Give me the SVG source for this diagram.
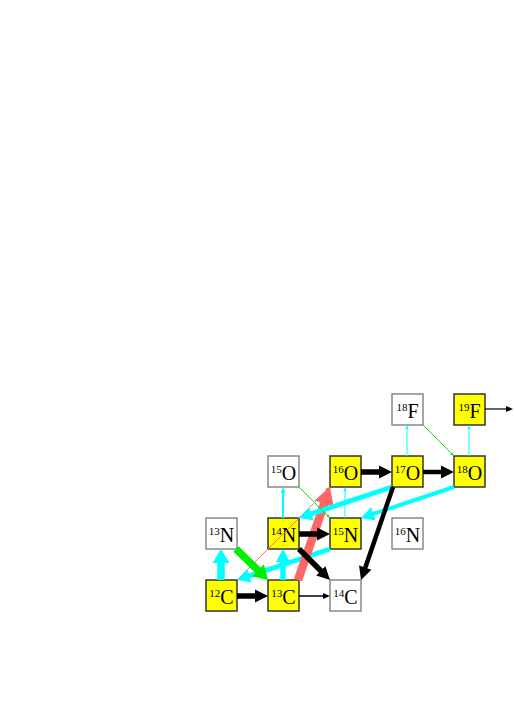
<svg xmlns="http://www.w3.org/2000/svg" width="514" height="727" viewBox="0 0 514 727">
<style>
.box rect{stroke-width:1.5}
.y rect{fill:#ffff00;stroke:#333}
.w rect{fill:#fff;stroke:#888}
text{font-family:"Liberation Serif","Times New Roman",serif;font-size:20px;fill:#000;text-anchor:middle}
.sup{font-size:11px}
line{fill:none}
.k{stroke:#000}
.c{stroke:#00ffff}
.g{stroke:#00ee00}
.r{stroke:#ff6666}
</style>
<defs>
<marker id="kB" markerUnits="userSpaceOnUse" markerWidth="13" markerHeight="13" refX="1" refY="6.5" orient="auto" overflow="visible"><path d="M0,0 L13,6.5 L0,13 z" fill="#000"/></marker>
<marker id="kS" markerUnits="userSpaceOnUse" markerWidth="7" markerHeight="6" refX="1" refY="3" orient="auto" overflow="visible"><path d="M0,0 L7,3 L0,6 z" fill="#000"/></marker>
<marker id="cB" markerUnits="userSpaceOnUse" markerWidth="14" markerHeight="17" refX="1" refY="8.5" orient="auto" overflow="visible"><path d="M0,0 L14,8.5 L0,17 z" fill="#00ffff"/></marker>
<marker id="cM" markerUnits="userSpaceOnUse" markerWidth="13" markerHeight="14" refX="1" refY="7" orient="auto" overflow="visible"><path d="M0,0 L13,7 L0,14 z" fill="#00ffff"/></marker>
<marker id="cS" markerUnits="userSpaceOnUse" markerWidth="6" markerHeight="5" refX="1" refY="2.5" orient="auto" overflow="visible"><path d="M0,0 L6,2.5 L0,5 z" fill="#00ffff"/></marker>
<marker id="cT" markerUnits="userSpaceOnUse" markerWidth="4" markerHeight="3" refX="1" refY="1.5" orient="auto" overflow="visible"><path d="M0,0 L4,1.5 L0,3 z" fill="#00ffff"/></marker>
<marker id="gB" markerUnits="userSpaceOnUse" markerWidth="14" markerHeight="17" refX="1" refY="8.5" orient="auto" overflow="visible"><path d="M0,0 L14,8.5 L0,17 z" fill="#00ee00"/></marker>
<marker id="gS" markerUnits="userSpaceOnUse" markerWidth="4" markerHeight="3" refX="1" refY="1.5" orient="auto" overflow="visible"><path d="M0,0 L4,1.5 L0,3 z" fill="#00ee00"/></marker>
<marker id="rB" markerUnits="userSpaceOnUse" markerWidth="18" markerHeight="20" refX="1" refY="10" orient="auto" overflow="visible"><path d="M0,0 L18,10 L0,20 z" fill="#ff6666"/></marker>
<marker id="rS" markerUnits="userSpaceOnUse" markerWidth="5" markerHeight="4" refX="1" refY="2" orient="auto" overflow="visible"><path d="M0,0 L5,2 L0,4 z" fill="#ff6666"/></marker>
</defs>

<g id="nodes">
<g id="n-18F" class="box w"><rect x="392" y="394" width="31" height="31"/><text x="407.5" y="418"><tspan class="sup" dy="-7">18</tspan><tspan dy="7">F</tspan></text></g>
<g id="n-19F" class="box y"><rect x="454" y="394" width="31" height="31"/><text x="469.5" y="418"><tspan class="sup" dy="-7">19</tspan><tspan dy="7">F</tspan></text></g>
<g id="n-15O" class="box w"><rect x="268" y="456" width="31" height="31"/><text x="283.5" y="480"><tspan class="sup" dy="-7">15</tspan><tspan dy="7">O</tspan></text></g>
<g id="n-16O" class="box y"><rect x="330" y="456" width="31" height="31"/><text x="345.5" y="480"><tspan class="sup" dy="-7">16</tspan><tspan dy="7">O</tspan></text></g>
<g id="n-17O" class="box y"><rect x="392" y="456" width="31" height="31"/><text x="407.5" y="480"><tspan class="sup" dy="-7">17</tspan><tspan dy="7">O</tspan></text></g>
<g id="n-18O" class="box y"><rect x="454" y="456" width="31" height="31"/><text x="469.5" y="480"><tspan class="sup" dy="-7">18</tspan><tspan dy="7">O</tspan></text></g>
<g id="n-13N" class="box w"><rect x="206" y="518" width="31" height="31"/><text x="221.5" y="542"><tspan class="sup" dy="-7">13</tspan><tspan dy="7">N</tspan></text></g>
<g id="n-14N" class="box y"><rect x="268" y="518" width="31" height="31"/><text x="283.5" y="542"><tspan class="sup" dy="-7">14</tspan><tspan dy="7">N</tspan></text></g>
<g id="n-15N" class="box y"><rect x="330" y="518" width="31" height="31"/><text x="345.5" y="542"><tspan class="sup" dy="-7">15</tspan><tspan dy="7">N</tspan></text></g>
<g id="n-16N" class="box w"><rect x="392" y="518" width="31" height="31"/><text x="407.5" y="542"><tspan class="sup" dy="-7">16</tspan><tspan dy="7">N</tspan></text></g>
<g id="n-12C" class="box y"><rect x="206" y="580" width="31" height="31"/><text x="221.5" y="604"><tspan class="sup" dy="-7">12</tspan><tspan dy="7">C</tspan></text></g>
<g id="n-13C" class="box y"><rect x="268" y="580" width="31" height="31"/><text x="283.5" y="604"><tspan class="sup" dy="-7">13</tspan><tspan dy="7">C</tspan></text></g>
<g id="n-14C" class="box w"><rect x="330" y="580" width="31" height="31"/><text x="345.5" y="604"><tspan class="sup" dy="-7">14</tspan><tspan dy="7">C</tspan></text></g>
</g>

<g id="connectors">
<line class="r" x1="237" y1="580" x2="327.2" y2="489.8" stroke-width="0.9" marker-end="url(#rS)"/>
<line class="c" x1="330" y1="549" x2="248.4" y2="576.2" stroke-width="5" marker-end="url(#cM)"/>
<line class="g" x1="236" y1="549" x2="258.7" y2="571" stroke-width="7.5" marker-end="url(#gB)"/>
<line class="r" x1="298" y1="580" x2="324.5" y2="502.9" stroke-width="8.5" marker-end="url(#rB)"/>
<line class="c" x1="392" y1="487" x2="310.4" y2="514.2" stroke-width="5" marker-end="url(#cM)"/>
<line class="c" x1="454" y1="487" x2="372.4" y2="514.2" stroke-width="4" marker-end="url(#cM)"/>
<line class="g" x1="299" y1="487" x2="327.9" y2="515.9" stroke-width="1" marker-end="url(#gS)"/>
<line class="g" x1="423" y1="425" x2="451.9" y2="453.9" stroke-width="1" marker-end="url(#gS)"/>
<line class="c" x1="221" y1="580" x2="221" y2="562" stroke-width="7.5" marker-end="url(#cB)"/>
<line class="c" x1="283" y1="580" x2="283" y2="561" stroke-width="5.5" marker-end="url(#cM)"/>
<line class="c" x1="283" y1="518" x2="283" y2="492" stroke-width="2" marker-end="url(#cS)"/>
<line class="c" x1="345" y1="518" x2="345" y2="490" stroke-width="1" marker-end="url(#cT)"/>
<line class="c" x1="407" y1="456" x2="407" y2="428" stroke-width="1" marker-end="url(#cT)"/>
<line class="c" x1="469" y1="456" x2="469" y2="428" stroke-width="1" marker-end="url(#cT)"/>
<line class="k" x1="237" y1="596" x2="256" y2="596" stroke-width="5.5" marker-end="url(#kB)"/>
<line class="k" x1="299" y1="596" x2="324" y2="596" stroke-width="1.5" marker-end="url(#kS)"/>
<line class="k" x1="299" y1="534" x2="318" y2="534" stroke-width="5.5" marker-end="url(#kB)"/>
<line class="k" x1="299" y1="549" x2="321.5" y2="571.5" stroke-width="5.5" marker-end="url(#kB)"/>
<line class="k" x1="361" y1="472" x2="380" y2="472" stroke-width="5.5" marker-end="url(#kB)"/>
<line class="k" x1="423" y1="472" x2="442" y2="472" stroke-width="4.5" marker-end="url(#kB)"/>
<line class="k" x1="393" y1="487" x2="364.9" y2="568.65" stroke-width="4.5" marker-end="url(#kB)"/>
<line class="k" x1="485" y1="409" x2="507" y2="409" stroke-width="1.2" marker-end="url(#kS)"/>
</g>
</svg>
